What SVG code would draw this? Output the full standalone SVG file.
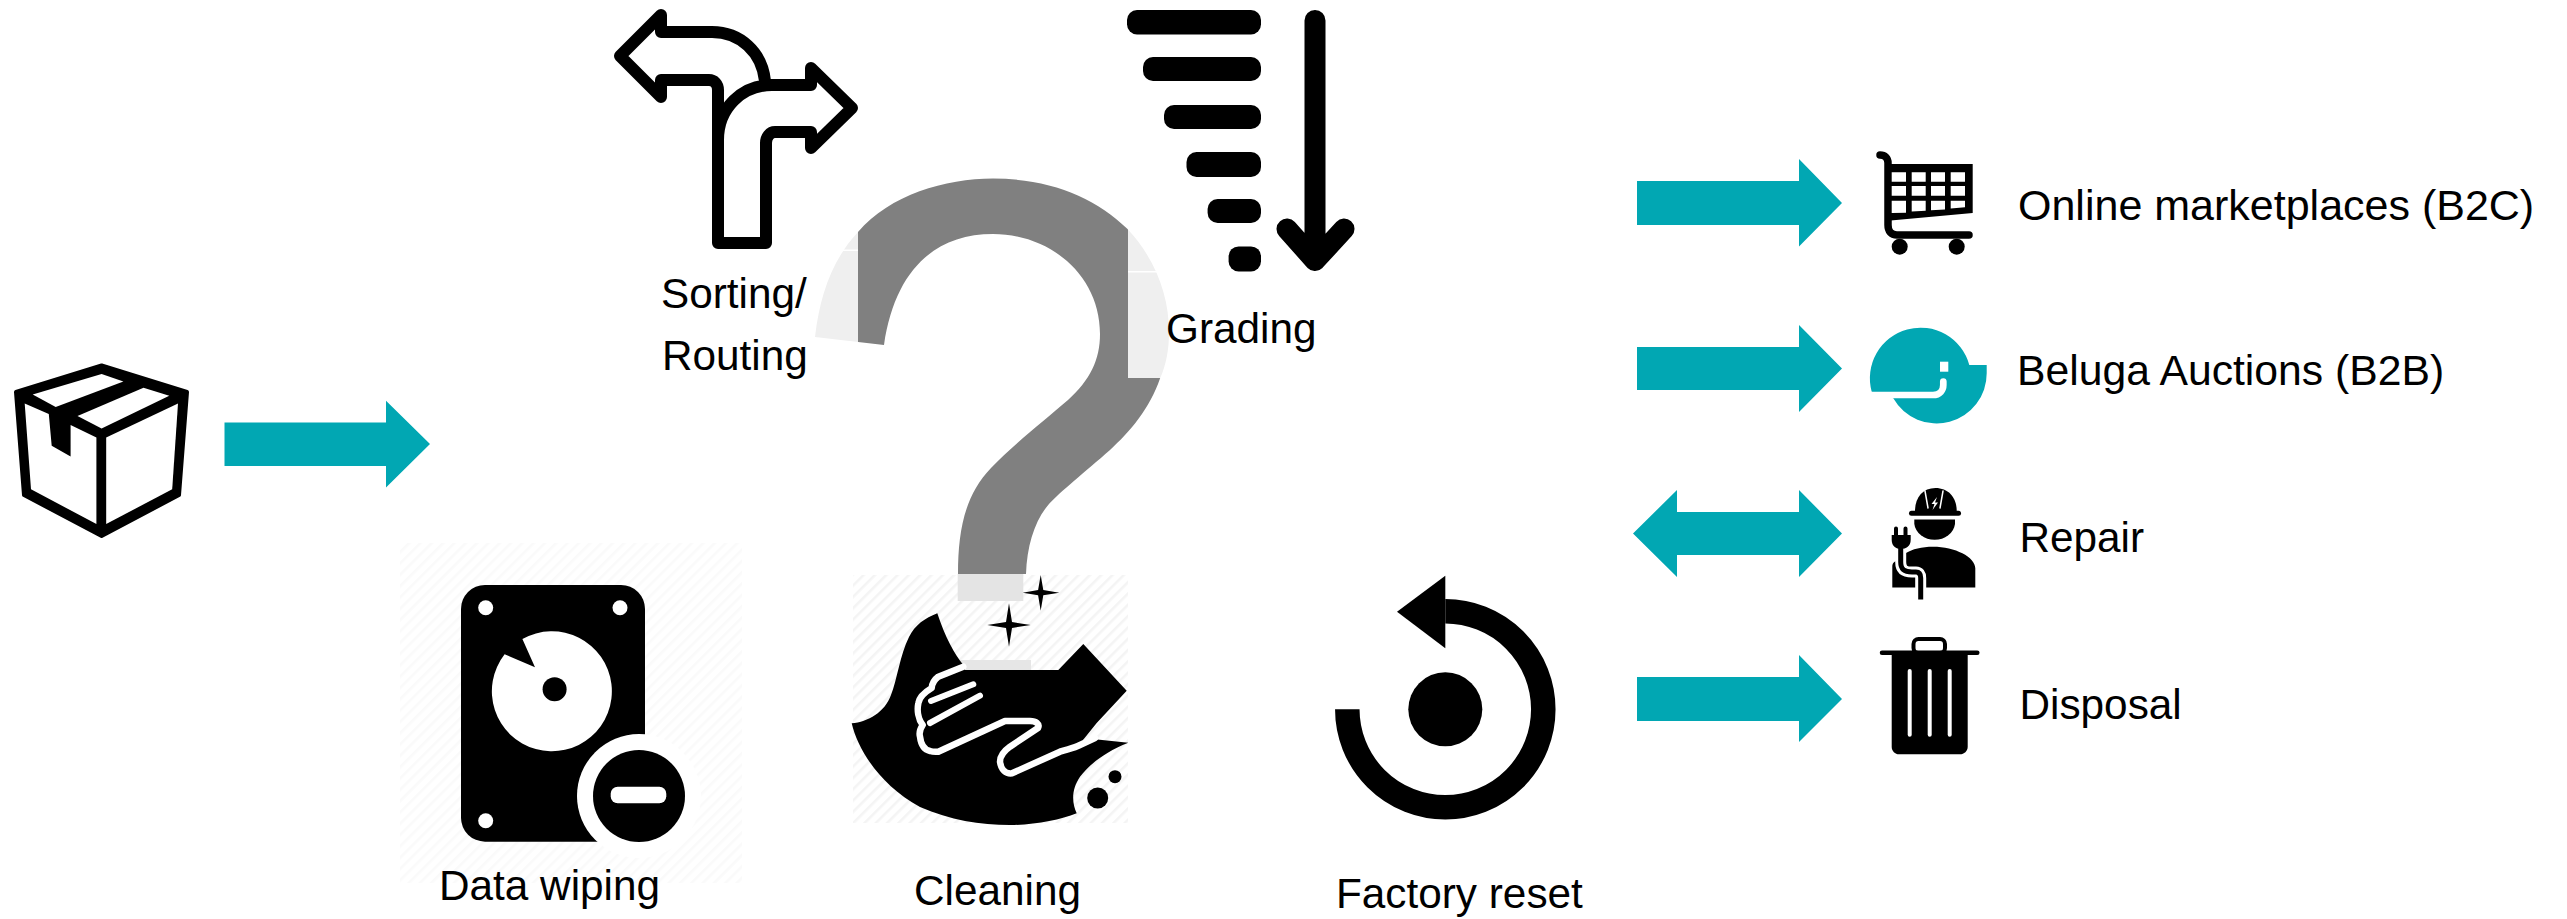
<svg xmlns="http://www.w3.org/2000/svg" width="2567" height="919" viewBox="0 0 2567 919">
<style>
text{font-family:"Liberation Sans",Arial,sans-serif;font-size:42.3px;fill:#000}
.k{fill:#000}.w{fill:#fff}
.ol{fill:none;stroke:#000;stroke-width:12;stroke-linejoin:round;stroke-linecap:round}
.arrow{fill:#01a7b3}
.wl{fill:none;stroke:#fff;stroke-linecap:round;stroke-linejoin:round}
</style>
<defs>
<pattern id="hatch" width="8" height="8" patternUnits="userSpaceOnUse" patternTransform="rotate(45)"><rect width="8" height="8" fill="#fff"/><rect width="2.500" height="8" fill="#f4f4f4"/></pattern>
<pattern id="hatch2" width="8" height="8" patternUnits="userSpaceOnUse" patternTransform="rotate(45)"><rect width="8" height="8" fill="#fff"/><rect width="2.500" height="8" fill="#fafafa"/></pattern>
</defs>
<rect width="2567" height="919" fill="#fff"/>
<g id="question-mark">
<path fill="#808080" d="M815,337C820,295 832,260 858,232C890,195 945,178.600 993,178.600C1050,178.600 1095,197 1127,228.600C1155,258 1169,295 1169,332C1169,350 1166,365 1160,378.600C1150,408 1130,432 1110,450C1085,472 1060,492 1049,504C1035,520 1027,545 1026,574H958C958,530 965,495 991,468C1015,443 1045,420 1068,400C1090,380 1100,360 1100,334C1100,275 1050,234 993,234C935,234 895,270 884,345Z"/>
<rect x="800" y="200" width="58" height="150" fill="#fff" fill-opacity=".87"/>
<rect x="1128" y="220" width="50" height="158" fill="#fff" fill-opacity=".87"/>
<rect x="800" y="249.500" width="58" height="1.500" fill="#fff"/>
<rect x="1128" y="271" width="50" height="1.500" fill="#fff"/>
</g>
<g id="package">
<path class="k" stroke="#000" stroke-width="4" stroke-linejoin="round" d="M101.600,365.500L16,392L24,495L101.600,536L179,495L187,392Z"/>
<path class="w" d="M32.700,394.600L101.600,374L123.400,381.400L55.700,407Z"/>
<path class="w" d="M143.500,387.700L169.300,395.700L101.600,428.600L77.500,416Z"/>
<path class="w" d="M24.700,403.600L48.800,414L51.700,445.700L70.600,456.400L70.600,425L96.400,437.500V524L31,489.300Z"/>
<path class="w" d="M106.200,437.500L178,403.600L172.200,489.300L106.200,524Z"/>
</g>
<g id="sorting">
<path class="ol" d="M620,56L661,15V32H712C740,32 762,52 765,81M620,56L661,97V80H709C714,80 718,84 718,90V243H766V143C766,137 770,132 775,132H811V148L852,108L811,68V85H772C742,85 718,108 718,140"/>
<text x="661" y="308">Sorting/</text>
<text x="662" y="369.600">Routing</text>
</g>
<g id="grading">
<rect class="k" x="1127" y="10" width="134" height="24.500" rx="10"/>
<rect class="k" x="1143" y="57" width="118" height="24" rx="10"/>
<rect class="k" x="1164" y="105" width="97" height="24" rx="10"/>
<rect class="k" x="1186.500" y="152" width="74.500" height="25" rx="10"/>
<rect class="k" x="1207.600" y="199" width="53.400" height="24" rx="10"/>
<rect class="k" x="1228.600" y="246.400" width="32.400" height="25" rx="10"/>
<path d="M1315,20.500V260.500M1287,229L1315,260.500L1344,229" fill="none" stroke="#000" stroke-width="21" stroke-linecap="round" stroke-linejoin="round"/>
<text x="1166" y="343">Grading</text>
</g>
<g id="data-wiping">
<rect x="400" y="543" width="342" height="340" fill="url(#hatch2)"/>
<rect class="k" x="461" y="585" width="184" height="256.700" rx="24"/>
<circle class="w" cx="639" cy="796" r="62"/>
<circle class="k" cx="639" cy="796" r="46"/>
<rect class="w" x="610.700" y="786.700" width="55.600" height="16.600" rx="7"/>
<circle class="w" cx="485.700" cy="607.700" r="7.500"/>
<circle class="w" cx="620" cy="607.700" r="7.500"/>
<circle class="w" cx="485.700" cy="820.700" r="7.500"/>
<path class="w" d="M522.400,639A60,60 0 1 1 504.600,654.300L535,667.300Z"/>
<circle class="k" cx="554.600" cy="689.300" r="12"/>
<text x="439" y="900">Data wiping</text>
</g>
<g id="cleaning">
<rect x="853" y="575" width="275" height="248" fill="url(#hatch)"/>
<rect x="957.700" y="574" width="65.600" height="27" fill="#e4e4e4"/>
<rect x="955" y="660" width="76" height="12" fill="#e6e6e6"/>
<path class="k" d="M1009,603.300L1012,622L1030.700,625L1012,628L1009,646.700L1006,628L987.300,625L1006,622Z"/>
<path class="k" d="M1040.700,575L1043.300,590L1059.300,592.700L1043.300,595.300L1040.700,610.700L1038.100,595.300L1022.700,592.700L1038.100,590Z"/>
<path class="k" d="M937.300,613.300C925,618 915,625 909,637C900,655 897,680 891,695C885,712 868,722 851.700,723.300C858,750 880,785 920,807C950,820 980,825 1010,825C1035,825 1060,820 1076.700,813.300C1072,803 1071,790 1080,776.700C1090,764 1105,752 1128.300,742.700L1095,739.300L1083,740L1096.700,723L1126.700,690.700L1083.300,644L1058.300,670H965L963.300,665C955,655 945,637 937.300,613.300Z"/>
<path class="wl" stroke-width="6.500" d="M963.300,666.700L938.300,676.700C934,680 932,684 931.700,688C925,692 919,698 918.300,703.300C917,710 918,719 922.700,725C920,729 919,733 920,736.700C921,745 925,750 930,751C933,752 935,752 938.300,751.700L1005,721H1030C1036,721 1040,724 1038,728L1010,746.700C1004,751 1000,757 1000,761.700C1001,770 1006,774 1012,773.300L1060,751.700C1068,749 1074,748 1080,745L1095,738"/>
<path class="wl" stroke-width="6" d="M973.300,684.300L931,701M980,695.700L930,723"/>
<circle class="k" cx="1115" cy="776.700" r="6.500"/>
<circle class="k" cx="1097.700" cy="798" r="10.500"/>
<text x="914" y="905">Cleaning</text>
</g>
<g id="factory-reset">
<circle class="k" cx="1445.300" cy="709.300" r="37"/>
<path d="M1347.300,709.300A98,98 0 1 0 1445.300,611.300" fill="none" stroke="#000" stroke-width="24.500"/>
<path class="k" d="M1397,611.700L1445.300,575.700V648.300Z"/>
<text x="1336" y="908.300">Factory reset</text>
</g>
<g id="connectors">
<path class="arrow" d="M224.500,422.500H386V400.700L430,444L386,487.500V466H224.500Z"/>
<path class="arrow" d="M1637,181H1799V159L1842,203L1799,246.500V225H1637Z"/>
<path class="arrow" d="M1637,347H1799V325L1842,368.500L1799,412V390H1637Z"/>
<path class="arrow" d="M1633,533.500L1677,490V512H1799V490L1842,533.500L1799,577V555H1677V577Z"/>
<path class="arrow" d="M1637,677H1799V655L1842,699L1799,742V721H1637Z"/>
</g>
<g id="online-marketplaces">
<path d="M1880,155C1885,155 1888,158 1888,163V225C1888,231 1891,235 1897,235H1969" fill="none" stroke="#000" stroke-width="7.500" stroke-linecap="round"/>
<path class="k" d="M1888,164H1972.700V213L1888,220.700Z"/>
<path class="w" d="M1891.700,172.300H1906V181.700H1891.700ZM1911.700,172.300H1925.700V181.700H1911.700ZM1931,172.300H1945V181.700H1931ZM1950.700,172.300H1965V181.700H1950.700ZM1891.700,186H1906V195.700H1891.700ZM1911.700,186H1925.700V195.700H1911.700ZM1931,186H1945V195.700H1931ZM1950.700,186H1965V195.700H1950.700ZM1891.700,200.700H1906V212.700L1891.700,213ZM1911.700,200.700H1925.700V210.700L1911.700,211.500ZM1931,200.700H1945V209.500L1931,210.300ZM1950.700,200.700H1965V207.300L1950.700,208.500Z"/>
<circle class="k" cx="1899.700" cy="246.700" r="8"/>
<circle class="k" cx="1956.700" cy="246.700" r="8"/>
<text x="2018" y="220" style="font-size:43px">Online marketplaces (B2C)</text>
</g>
<g id="beluga-auctions">
<path class="arrow" d="M1871.700,391.700A50,50 0 1 1 1969.300,365H1986.700V373.300A50,50 0 0 1 1893.300,398.300Z"/>
<path class="wl" stroke-width="6.700" stroke-linecap="butt" d="M1868,395H1933C1940,395 1943.300,390 1943.300,385V381.500"/>
<rect class="w" x="1940" y="361.700" width="8.300" height="10"/>
<text x="2017" y="385" style="font-size:42.700px">Beluga Auctions (B2B)</text>
</g>
<g id="repair">
<path class="k" d="M1915,511C1915,497 1923,488 1935.500,488C1948,488 1956.700,497 1956.700,511Z"/>
<rect class="k" x="1909" y="510.700" width="52" height="5" rx="2.500"/>
<path class="wl" stroke-width="1.500" d="M1925,491L1928,508M1943,491L1940,508"/>
<path class="w" d="M1937,497L1931.500,504H1934.500L1932.500,510L1938,502.500H1935Z"/>
<path class="k" d="M1914.300,519.500H1955V524A20.500,18 0 0 1 1914.300,524Z"/>
<path class="k" d="M1975.300,587.500V568.300C1975.300,557 1955,546.700 1933,546.700C1922,546.700 1912,549 1906,553V560H1897.300C1894,562 1892.300,563 1892.300,567V587.500Z"/>
<path d="M1900.700,543V562C1900.700,570 1905,572 1912,572H1916C1919,572 1920.700,574 1920.700,578V600" fill="none" stroke="#fff" stroke-width="11"/>
<path d="M1900.700,543V562C1900.700,570 1905,572 1912,572H1916C1919,572 1920.700,574 1920.700,578V599.500" fill="none" stroke="#000" stroke-width="5"/>
<path class="k" d="M1891.700,535H1910.700V540C1910.700,546 1906,549 1901,549C1896,549 1891.700,546 1891.700,540Z"/>
<path d="M1896,528.500V536M1905.500,528.500V536" stroke="#000" stroke-width="4" stroke-linecap="round"/>
<text x="2019.500" y="551.700">Repair</text>
</g>
<g id="disposal">
<path d="M1882,652.700H1977.300" stroke="#000" stroke-width="4.500" stroke-linecap="round"/>
<rect x="1913.500" y="639" width="31.500" height="14" rx="5" fill="none" stroke="#000" stroke-width="4"/>
<path class="k" d="M1891.700,655H1967.700V747C1967.700,751 1964,754.300 1960,754.300H1899C1895,754.300 1891.700,751 1891.700,747Z"/>
<rect class="w" x="1907.700" y="669" width="4" height="67.700" rx="2"/>
<rect class="w" x="1927.700" y="669" width="4" height="67.700" rx="2"/>
<rect class="w" x="1947.700" y="669" width="4" height="67.700" rx="2"/>
<text x="2019.500" y="719">Disposal</text>
</g>
</svg>
